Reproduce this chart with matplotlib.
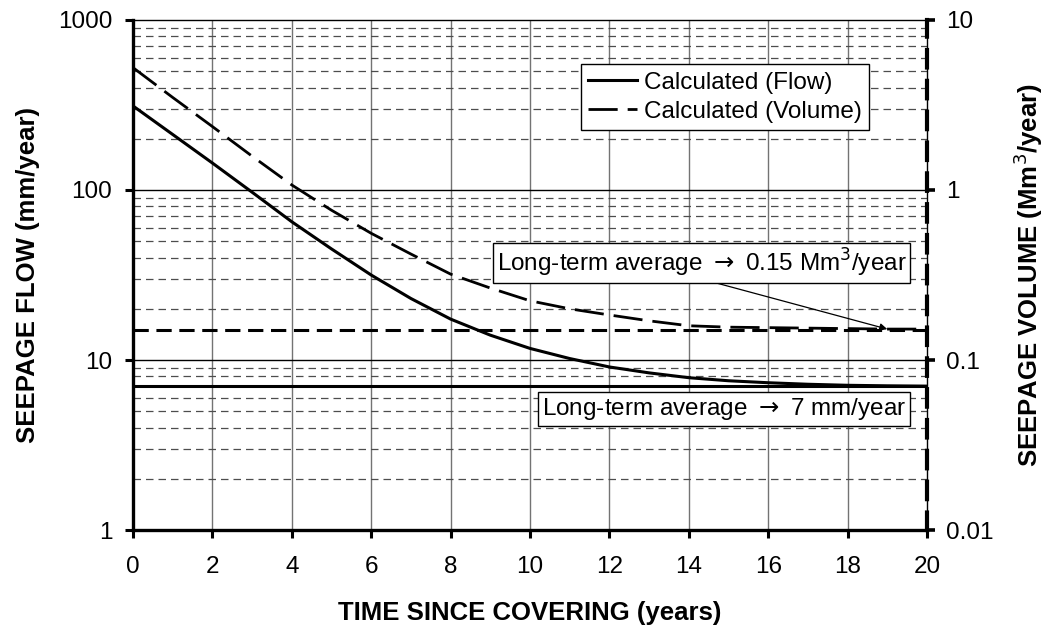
import numpy as np
import matplotlib
matplotlib.use("Agg")
import matplotlib.pyplot as plt
from matplotlib.ticker import LogLocator, NullFormatter, FixedLocator, FixedFormatter

plt.rcParams['font.family'] = ['Liberation Sans', 'DejaVu Sans']

# time since covering (years)
years = [0, 1, 2, 3, 4, 5, 6, 7, 8, 9, 10, 11, 12, 13, 14, 15, 16, 17, 18, 19, 20]
# calculated seepage flow (mm/year)
flow = [312, 212, 144, 97, 65, 45, 31.6, 23, 17.4, 14, 11.7, 10.2, 9.1, 8.4, 7.87,
        7.55, 7.35, 7.2, 7.1, 7.05, 7.02]
# calculated seepage volume (Mm3/year)
volume = [5.24, 3.5, 2.36, 1.58, 1.07, 0.76, 0.556, 0.42, 0.32, 0.265, 0.223, 0.20,
          0.184, 0.17, 0.159, 0.156, 0.155, 0.154, 0.153, 0.152, 0.152]
flow_avg = 7
volume_avg = 0.15

flow_ticks = [1, 10, 100, 1000]
flow_labels = ['1', '10', '100', '1000']
vol_ticks = [0.01, 0.1, 1, 10]
vol_labels = ['0.01', '0.1', '1', '10']
x_ticks = list(range(0, 21, 2))

FS = 17.5

fig = plt.figure(figsize=(10.46, 6.3), dpi=100)
ax = fig.add_axes([0.1272, 0.1587, 0.759, 0.8096])
ax2 = ax.twinx()

# grid (drawn on the flow axis)
ax.set_yscale('log')
ax.set_ylim(1, 1000)
ax.set_xlim(0, 20)
for xv in x_ticks[1:-1]:
    ax.axvline(xv, color='0.45', lw=1.0, zorder=0)
for d in [1, 10, 100]:
    for m in range(2, 10):
        ax.axhline(d * m, color='0.3', lw=0.9, ls=(0, (6, 4)), zorder=0)
for yv in [10, 100]:
    ax.axhline(yv, color='black', lw=1.0, zorder=0)

ax.plot(years, flow, color='black', lw=2.2, label='Calculated (Flow)', zorder=3)
ax.axhline(flow_avg, color='black', lw=2.2, zorder=3)

ax.yaxis.set_major_locator(FixedLocator(flow_ticks))
ax.yaxis.set_major_formatter(FixedFormatter(flow_labels))
ax.yaxis.set_minor_locator(LogLocator(base=10, subs=range(2, 10)))
ax.yaxis.set_minor_formatter(NullFormatter())
ax.set_xticks(x_ticks)
ax.tick_params(axis='both', which='major', direction='out', length=6, width=2.2,
               labelsize=FS)
ax.tick_params(axis='y', which='major', pad=9)
ax.tick_params(axis='x', which='major', pad=13)
ax.tick_params(axis='y', which='minor', length=0)

ax.spines['left'].set_linewidth(2.4)
ax.spines['bottom'].set_linewidth(2.4)
ax.spines['top'].set_linewidth(1.0)
ax.spines['right'].set_linewidth(1.0)

ax.set_xlabel('TIME SINCE COVERING (years)', fontsize=18.5, fontweight='bold')
ax.set_ylabel('SEEPAGE FLOW (mm/year)', fontsize=18.5, fontweight='bold')
ax.xaxis.set_label_coords(0.5, -0.14)
ax.yaxis.set_label_coords(-0.117, 0.5)

# volume axis
ax2.set_yscale('log')
ax2.set_ylim(0.01, 10)
ax2.plot(years, volume, color='black', lw=2.0, ls=(0, (10.5, 3.6)),
         label='Calculated (Volume)', zorder=3)
ax2.axhline(volume_avg, color='black', lw=2.2, ls=(0, (5, 2.5)), zorder=3)
ax2.yaxis.set_major_locator(FixedLocator(vol_ticks))
ax2.yaxis.set_major_formatter(FixedFormatter(vol_labels))
ax2.yaxis.set_minor_formatter(NullFormatter())
ax2.tick_params(axis='y', which='major', direction='out', length=6, width=2.6,
                labelsize=FS, pad=8)
ax2.tick_params(axis='y', which='minor', length=0)
for s in ['left', 'top', 'bottom']:
    ax2.spines[s].set_visible(False)
ax2.spines['right'].set_linewidth(3.0)
ax2.spines['right'].set_linestyle((0, (4.2, 3.2)))
ax2.set_ylabel('SEEPAGE VOLUME (Mm$^{3}$/year)', fontsize=18.5, fontweight='bold')
ax2.yaxis.set_label_coords(1.106, 0.5)

h1, l1 = ax.get_legend_handles_labels()
h2, l2 = ax2.get_legend_handles_labels()
leg = ax2.legend(h1 + h2, l1 + l2, loc='upper left', bbox_to_anchor=(0.564, 0.913),
                 borderaxespad=0, fancybox=False, framealpha=1, edgecolor='black',
                 fontsize=FS, handlelength=2.0, handletextpad=0.3,
                 borderpad=0.3, labelspacing=0.3)
leg.get_frame().set_linewidth(1.0)

ax2.annotate('Long-term average $\\rightarrow$ 0.15 Mm$^{3}$/year',
             xy=(19.0, 0.152), xytext=(14.33, 0.372), ha='center', va='center',
             fontsize=FS, zorder=5,
             bbox=dict(boxstyle='square,pad=0.15', fc='white', ec='black', lw=1.0),
             arrowprops=dict(arrowstyle='-|>', color='black', lw=0.9,
                             mutation_scale=11, shrinkA=0, shrinkB=0,
                             relpos=(0.5, 0.0)))
ax2.text(14.89, 0.0515, 'Long-term average $\\rightarrow$ 7 mm/year',
         ha='center', va='center', fontsize=FS, zorder=5,
         bbox=dict(boxstyle='square,pad=0.15', fc='white', ec='black', lw=1.0))

fig.savefig('out.png', dpi=100)
